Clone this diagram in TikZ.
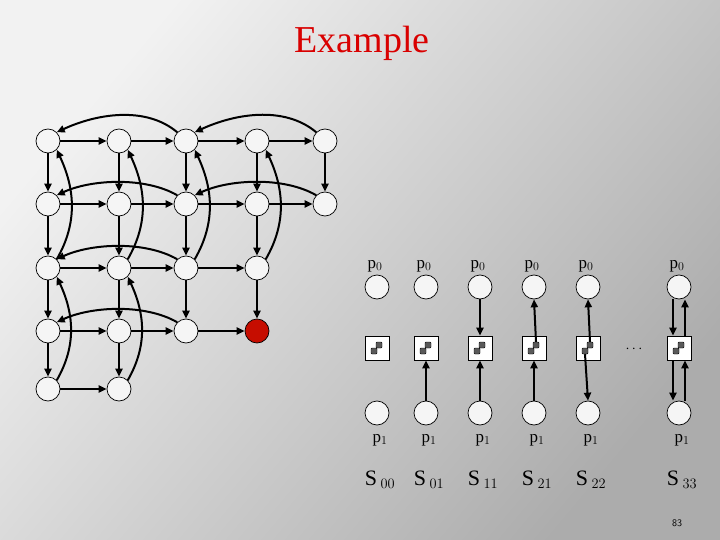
\documentclass[tikz,border=0pt]{standalone}
\usepackage{fontspec}
\setmainfont{Liberation Serif}
\usetikzlibrary{arrows.meta}
\begin{document}
\begin{tikzpicture}[x=1pt,y=-1pt,
  vn/.style={circle,draw,line width=0.7pt,fill=white!92!gray,minimum size=24pt,inner sep=0pt},
  rn/.style={circle,draw,line width=0.7pt,fill=red!75!black!90!orange,minimum size=24pt,inner sep=0pt},
  en/.style={-{Triangle[length=8pt,width=7pt]},line width=2pt},
  bx/.style={draw,line width=0.7pt,fill=white,minimum size=24pt,inner sep=0pt},
  dt/.style={rectangle,rounded corners=1pt,draw,fill=gray!70!black,minimum size=6pt,inner sep=0pt},
  lab/.style={font=\fontsize{17}{19}\selectfont}]
\shade[top color=white!90!gray,bottom color=gray!65,shading angle=50] (0,0) rectangle (720,540);
\useasboundingbox (0,0) rectangle (720,540);
\node[text=red!85!black,font=\fontsize{38}{42}\selectfont] (title) at (362,43) {Example};
\node[font=\fontsize{10}{11}\sffamily] (pg) at (677,523) {83};
% grid
\foreach \c/\x in {0/48,1/119,2/186,3/257,4/325}{
  \foreach \r/\y in {0/141,1/204}{\node[vn] (n\r\c) at (\x,\y) {};}}
\foreach \c/\x in {0/48,1/119,2/186,3/257}{\node[vn] (n2\c) at (\x,268) {};}
\foreach \c/\x in {0/48,1/119,2/186}{\node[vn] (n3\c) at (\x,331) {};}
\node[rn] (n33) at (257,331) {};
\foreach \c/\x in {0/48,1/119}{\node[vn] (n4\c) at (\x,389) {};}
% horizontal
\foreach \r in {0,1}{\foreach \a/\b in {0/1,1/2,2/3,3/4}{\draw[en] (n\r\a) -- (n\r\b);}}
\foreach \r in {2,3}{\foreach \a/\b in {0/1,1/2,2/3}{\draw[en] (n\r\a) -- (n\r\b);}}
\draw[en] (n40) -- (n41);
% vertical
\foreach \c in {0,1,2,3}{\foreach \a/\b in {0/1,1/2,2/3}{\draw[en] (n\a\c) -- (n\b\c);}}
\draw[en] (n04) -- (n14);
\foreach \c in {0,1}{\draw[en] (n3\c) -- (n4\c);}
% horizontal back arcs
\draw[en] (n02.north west) to[out=140,in=25,looseness=0.9] (n00.north east);
\draw[en] (n04.north west) to[out=140,in=25,looseness=0.9] (n02.north east);
\draw[en] (n12.north west) to[out=150,in=25,looseness=0.8] (n10.north east);
\draw[en] (n14.north west) to[out=150,in=25,looseness=0.8] (n12.north east);
\draw[en] (n22.north west) to[out=150,in=25,looseness=0.8] (n20.north east);
\draw[en] (n32.north west) to[out=150,in=25,looseness=0.8] (n30.north east);
% vertical back arcs
\foreach \c in {0,1,2,3}{\draw[en] (n2\c.north east) to[out=60,in=-65,looseness=1] (n0\c.south east);}
\foreach \c in {0,1}{\draw[en] (n4\c.north east) to[out=60,in=-65,looseness=1] (n2\c.south east);}
% right side
\foreach \i/\x/\s in {0/377/00,1/426/01,2/480/11,3/534/21,4/588/22,5/679/33}{
  \node[vn] (t\i) at (\x,287) {};
  \node[vn] (b\i) at (\x,413) {};
  \node[bx] (q\i) at (\x,348) {};
  \node[dt] (dl\i) at (\x-3,351) {};
  \node[dt] (du\i) at (\x+2,345) {};
  \node[lab] (pt\i) at (\x-2,266) {p$_0$};
  \node[lab] (pb\i) at (\x+3,440) {p$_1$};
  \node[font=\fontsize{22}{24}\selectfont] (s\i) at (\x+3,480) {S\,$_{\s}$};
}
\node[font=\Large] (dots) at (634,349) {$\cdots$};
\draw[en] (b1) -- (q1);
\draw[en] (t2) -- (q2);
\draw[en] (b2) -- (q2);
\draw[en] (b3) -- (q3);
\draw[en] (du3.north) -- (t3.south);
\draw[en] (du4.north) -- (t4.south);
\draw[en] (dl4.south) -- (b4.north);
\draw[en] ([xshift=-6pt]t5.south) -- ([xshift=-6pt]q5.north);
\draw[en] ([xshift=-6pt]q5.south) -- ([xshift=-6pt]b5.north);
\draw[en] ([xshift=6pt]b5.north) -- ([xshift=6pt]q5.south);
\draw[en] ([xshift=6pt]q5.north) -- ([xshift=6pt]t5.south);
\end{tikzpicture}
\end{document}
